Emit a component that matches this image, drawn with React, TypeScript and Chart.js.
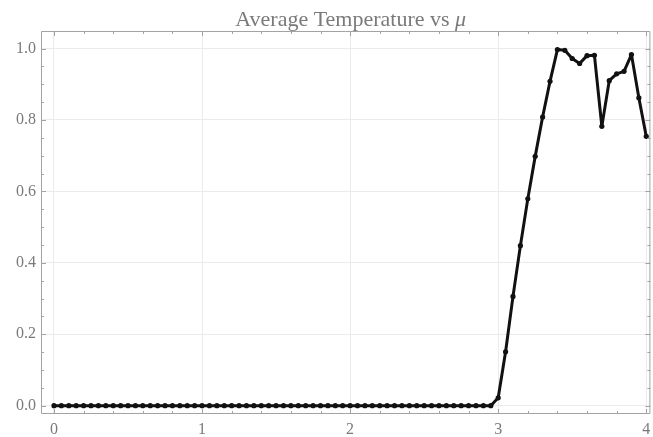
import React, { useEffect, useRef } from "react";
import { Chart, registerables } from "chart.js";

Chart.register(...registerables);

const muValues: number[] = [
  0, 0.05, 0.1, 0.15, 0.2, 0.25, 0.3, 0.35, 0.4, 0.45,
  0.5, 0.55, 0.6, 0.65, 0.7, 0.75, 0.8, 0.85, 0.9, 0.95,
  1, 1.05, 1.1, 1.15, 1.2, 1.25, 1.3, 1.35, 1.4, 1.45,
  1.5, 1.55, 1.6, 1.65, 1.7, 1.75, 1.8, 1.85, 1.9, 1.95,
  2, 2.05, 2.1, 2.15, 2.2, 2.25, 2.3, 2.35, 2.4, 2.45,
  2.5, 2.55, 2.6, 2.65, 2.7, 2.75, 2.8, 2.85, 2.9, 2.95,
  3, 3.05, 3.1, 3.15, 3.2, 3.25, 3.3, 3.35, 3.4, 3.45,
  3.5, 3.55, 3.6, 3.65, 3.7, 3.75, 3.8, 3.85, 3.9, 3.95, 4,
];

const avgTemperature: number[] = [
  0, 0, 0, 0, 0, 0, 0, 0, 0, 0,
  0, 0, 0, 0, 0, 0, 0, 0, 0, 0,
  0, 0, 0, 0, 0, 0, 0, 0, 0, 0,
  0, 0, 0, 0, 0, 0, 0, 0, 0, 0,
  0, 0, 0, 0, 0, 0, 0, 0, 0, 0,
  0, 0, 0, 0, 0, 0, 0, 0, 0, 0,
  0.022, 0.151, 0.306, 0.448, 0.579, 0.698, 0.808, 0.908, 0.997, 0.995,
  0.972, 0.958, 0.98, 0.981, 0.782, 0.91, 0.929, 0.936, 0.983, 0.862, 0.754,
];

const xTickValues: number[] = [0, 1, 2, 3, 4];
const xMinorTickValues: number[] = [
  0.2, 0.4, 0.6, 0.8, 1.2, 1.4, 1.6, 1.8, 2.2, 2.4, 2.6, 2.8, 3.2, 3.4, 3.6, 3.8,
];
const yTickValues: number[] = [0, 0.2, 0.4, 0.6, 0.8, 1.0];
const yMinorTickValues: number[] = [
  0.05, 0.1, 0.15, 0.25, 0.3, 0.35, 0.45, 0.5, 0.55, 0.65, 0.7, 0.75, 0.85, 0.9, 0.95,
];

const titleMain = "Average Temperature vs ";
const titleSymbol = "\u03bc";

const FONT = "'Liberation Serif', 'DejaVu Serif', serif";
const FRAME = "#a3a3a3";
const TEXT = "#7a7a7a";

const framePlugin = {
  id: "mmaFrame",
  afterDraw(chart: any) {
    const { ctx, chartArea } = chart;
    const xs = chart.scales.x;
    const ys = chart.scales.y;
    const { left, right, top, bottom } = chartArea;
    ctx.save();
    ctx.strokeStyle = FRAME;
    ctx.lineWidth = 1;
    ctx.beginPath();
    ctx.rect(left + 0.5, top + 0.5, right - left - 1, bottom - top - 1);
    ctx.stroke();

    const major = 5;
    const minor = 3;
    ctx.beginPath();
    const xTick = (v: number, len: number) => {
      const px = Math.round(xs.getPixelForValue(v)) + 0.5;
      ctx.moveTo(px, bottom);
      ctx.lineTo(px, bottom - len);
      ctx.moveTo(px, top);
      ctx.lineTo(px, top + len);
    };
    const yTick = (v: number, len: number) => {
      const py = Math.round(ys.getPixelForValue(v)) + 0.5;
      ctx.moveTo(left, py);
      ctx.lineTo(left + len, py);
      ctx.moveTo(right, py);
      ctx.lineTo(right - len, py);
    };
    xTickValues.forEach((v) => xTick(v, major));
    xMinorTickValues.forEach((v) => xTick(v, minor));
    yTickValues.forEach((v) => yTick(v, major));
    yMinorTickValues.forEach((v) => yTick(v, minor));
    ctx.stroke();

    // Title with italic mu
    const cx = (left + right) / 2 + 5;
    const mainFont = `22px ${FONT}`;
    const symFont = `italic 22px ${FONT}`;
    ctx.font = mainFont;
    const w1 = ctx.measureText(titleMain).width;
    ctx.font = symFont;
    const w2 = ctx.measureText(titleSymbol).width;
    const startX = cx - (w1 + w2) / 2;
    ctx.fillStyle = TEXT;
    ctx.textBaseline = "alphabetic";
    ctx.textAlign = "left";
    ctx.font = mainFont;
    ctx.fillText(titleMain, startX, 26);
    ctx.font = symFont;
    ctx.fillText(titleSymbol, startX + w1, 26);
    ctx.restore();
  },
};

export default function App() {
  const canvasRef = useRef<HTMLCanvasElement | null>(null);

  useEffect(() => {
    if (!canvasRef.current) return;
    const points = muValues.map((x, i) => ({ x, y: avgTemperature[i] }));
    const chart = new Chart(canvasRef.current, {
      type: "line",
      data: {
        datasets: [
          {
            data: points,
            borderColor: "#111111",
            backgroundColor: "#111111",
            borderWidth: 3,
            borderJoinStyle: "round",
            borderCapStyle: "round",
            pointRadius: 2.6,
            pointHoverRadius: 2.6,
            pointBorderWidth: 0,
            tension: 0,
          },
        ],
      },
      options: {
        animation: false,
        responsive: true,
        maintainAspectRatio: false,
        layout: { padding: { top: 31, right: 2, left: 0, bottom: 0 } },
        plugins: {
          legend: { display: false },
          title: { display: false },
          tooltip: { enabled: false },
        },
        scales: {
          x: {
            type: "linear",
            min: -0.0877,
            max: 4.028,
            afterBuildTicks: (scale: any) => {
              scale.ticks = xTickValues.map((v) => ({ value: v }));
            },
            afterFit: (scale: any) => {
              scale.height = 23;
              scale.paddingLeft = 0;
              scale.paddingRight = 0;
            },
            grid: { color: "#ebebeb", drawTicks: false },
            border: { display: false },
            ticks: {
              color: TEXT,
              font: { family: FONT, size: 16 },
              padding: 6,
              maxRotation: 0,
              autoSkip: false,
              callback: (v: any) => String(v),
            },
          },
          y: {
            type: "linear",
            min: -0.0233,
            max: 1.049,
            afterBuildTicks: (scale: any) => {
              scale.ticks = yTickValues.map((v) => ({ value: v }));
            },
            afterFit: (scale: any) => {
              scale.width = 41;
              scale.paddingTop = 0;
              scale.paddingBottom = 0;
            },
            grid: { color: "#ebebeb", drawTicks: false },
            border: { display: false },
            ticks: {
              color: TEXT,
              font: { family: FONT, size: 16 },
              padding: 5,
              autoSkip: false,
              callback: (v: any) => Number(v).toFixed(1),
            },
          },
        },
      },
      plugins: [framePlugin],
    });
    return () => chart.destroy();
  }, []);

  return (
    <div style={{ position: "absolute", left: 0, top: 0, width: 653, height: 437, background: "#ffffff" }}>
      <canvas ref={canvasRef} />
    </div>
  );
}
